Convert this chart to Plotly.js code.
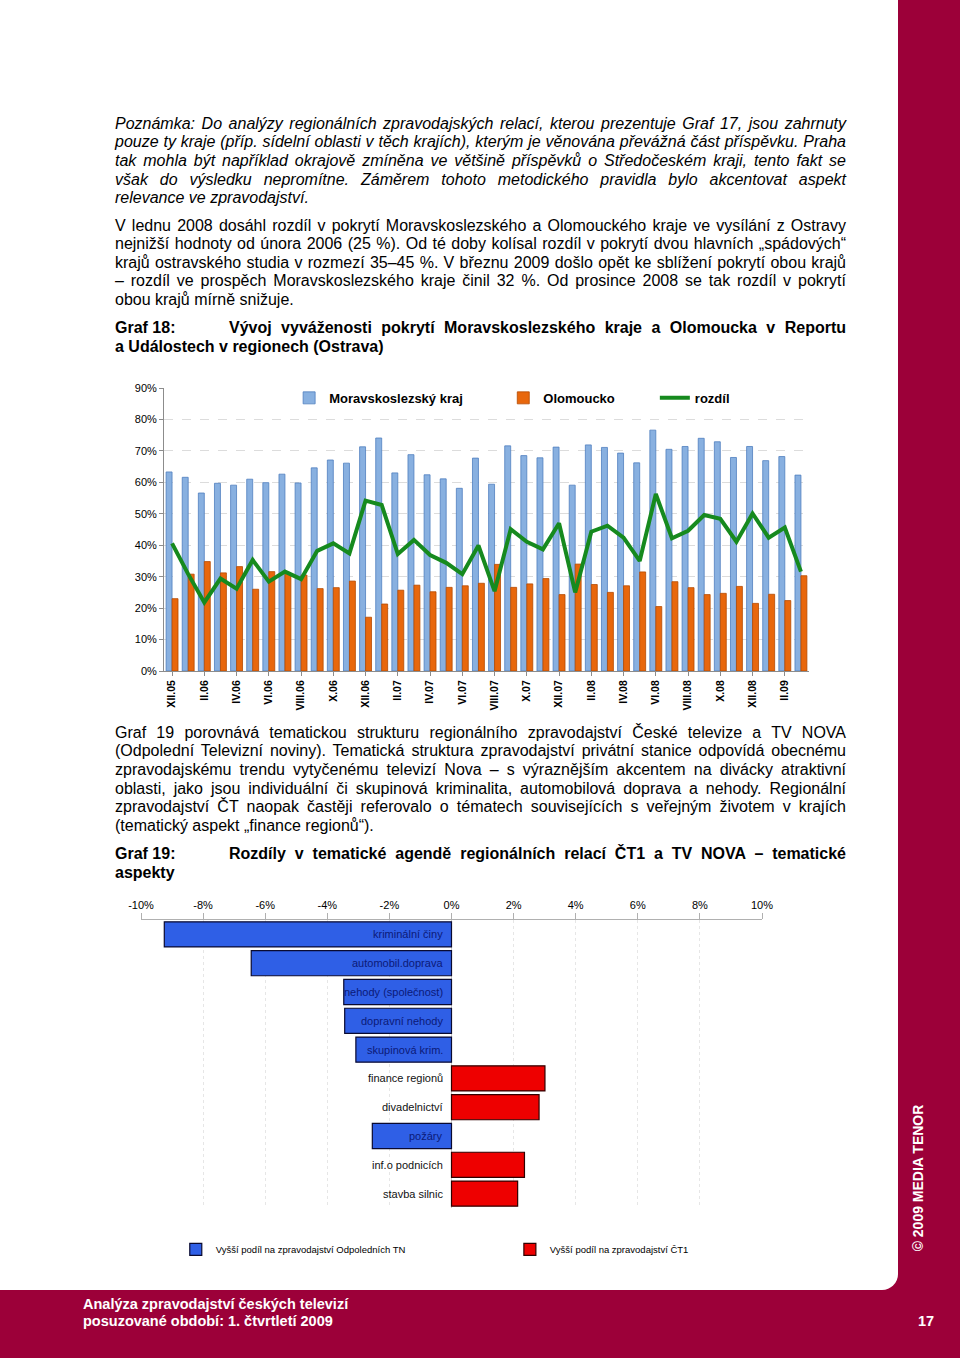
<!DOCTYPE html>
<html><head><meta charset="utf-8">
<script src="https://cdn.plot.ly/plotly-3.0.1.min.js"></script>
<style>
html,body{margin:0;padding:0;}
body{width:960px;height:1358px;background:#9c0039;position:relative;overflow:hidden;font-family:"Liberation Sans",Arial,sans-serif;}
#page{position:absolute;left:0;top:0;width:898px;height:1290px;background:#fff;border-bottom-right-radius:16px;}
.ln{position:absolute;left:115px;width:731px;font-size:16px;line-height:18px;height:18px;white-space:nowrap;color:#000;}
.it{font-style:italic;}
.b{font-weight:bold;}
.hd{position:absolute;left:115px;font-size:16px;line-height:18px;font-weight:bold;white-space:nowrap;}
#c1{position:absolute;left:100px;top:370px;width:730px;height:360px;}
#c2{position:absolute;left:100px;top:880px;width:700px;height:400px;}
#copy{position:absolute;left:918px;top:1178px;transform:translate(-50%,-50%) rotate(-90deg);color:#fff;font-weight:bold;font-size:14px;white-space:nowrap;}
.ft{position:absolute;color:#fff;font-family:"Liberation Sans",Arial,sans-serif;font-weight:bold;font-size:14.5px;line-height:18px;white-space:nowrap;}
</style>
</head><body>
<div id="page"></div>

<div class="ln it j" style="top:115px"><span>Poznámka: Do analýzy regionálních zpravodajských relací, kterou prezentuje Graf 17, jsou zahrnuty</span></div>
<div class="ln it j" style="top:133px"><span>pouze ty kraje (příp. sídelní oblasti v těch krajích), kterým je věnována převážná část příspěvku. Praha</span></div>
<div class="ln it j" style="top:152px"><span>tak mohla být například okrajově zmíněna ve většině příspěvků o Středočeském kraji, tento fakt se</span></div>
<div class="ln it j" style="top:171px"><span>však do výsledku nepromítne. Záměrem tohoto metodického pravidla bylo akcentovat aspekt</span></div>
<div class="ln it" style="top:189px"><span>relevance ve zpravodajství.</span></div>

<div class="ln j" style="top:217px"><span>V lednu 2008 dosáhl rozdíl v pokrytí Moravskoslezského a Olomouckého kraje ve vysílání z Ostravy</span></div>
<div class="ln j" style="top:235px"><span>nejnižší hodnoty od února 2006 (25 %). Od té doby kolísal rozdíl v pokrytí dvou hlavních „spádových“</span></div>
<div class="ln j" style="top:254px"><span>krajů ostravského studia v rozmezí 35–45 %. V březnu 2009 došlo opět ke sblížení pokrytí obou krajů</span></div>
<div class="ln j" style="top:272px"><span>– rozdíl ve prospěch Moravskoslezského kraje činil 32 %. Od prosince 2008 se tak rozdíl v pokrytí</span></div>
<div class="ln" style="top:291px"><span>obou krajů mírně snižuje.</span></div>

<div class="hd" style="top:319px">Graf 18:</div>
<div class="ln b j" style="top:319px;left:229px;width:617px"><span>Vývoj vyváženosti pokrytí Moravskoslezského kraje a Olomoucka v Reportu</span></div>
<div class="ln b" style="top:338px"><span>a Událostech v regionech (Ostrava)</span></div>

<div id="c1"></div>

<div class="ln j" style="top:724px"><span>Graf 19 porovnává tematickou strukturu regionálního zpravodajství České televize a TV NOVA</span></div>
<div class="ln j" style="top:742px"><span>(Odpolední Televizní noviny). Tematická struktura zpravodajství privátní stanice odpovídá obecnému</span></div>
<div class="ln j" style="top:761px"><span>zpravodajskému trendu vytyčenému televizí Nova – s výraznějším akcentem na divácky atraktivní</span></div>
<div class="ln j" style="top:780px"><span>oblasti, jako jsou individuální či skupinová kriminalita, automobilová doprava a nehody. Regionální</span></div>
<div class="ln j" style="top:798px"><span>zpravodajství ČT naopak častěji referovalo o tématech souvisejících s veřejným životem v krajích</span></div>
<div class="ln" style="top:817px"><span>(tematický aspekt „finance regionů“).</span></div>

<div class="hd" style="top:845px">Graf 19:</div>
<div class="ln b j" style="top:845px;left:229px;width:617px"><span>Rozdíly v tematické agendě regionálních relací ČT1 a TV NOVA – tematické</span></div>
<div class="ln b" style="top:864px"><span>aspekty</span></div>

<div id="c2"></div>

<div id="copy">© 2009 MEDIA TENOR</div>
<div class="ft" style="left:83px;top:1295px">Analýza zpravodajství českých televizí</div>
<div class="ft" style="left:83px;top:1312px">posuzované období: 1. čtvrtletí 2009</div>
<div class="ft" style="left:918px;top:1312px">17</div>

<script>
// justify single lines
document.querySelectorAll('.j').forEach(function(el){
  var sp = el.querySelector('span');
  var target = el.getBoundingClientRect().width;
  var w = sp.getBoundingClientRect().width;
  var txt = sp.textContent;
  var n = (txt.match(/ /g)||[]).length;
  if (w < target && n > 0) sp.style.wordSpacing = ((target - w)/n) + 'px';
  else if (w > target) sp.style.letterSpacing = ((target - w)/txt.length) + 'px';
});

// ---- Graf 18 data ----
var months = ['XII.05','I.06','II.06','III.06','IV.06','V.06','VI.06','VII.06','VIII.06','IX.06','X.06','XI.06',
  'XII.06','I.07','II.07','III.07','IV.07','V.07','VI.07','VII.07','VIII.07','IX.07','X.07','XI.07',
  'XII.07','I.08','II.08','III.08','IV.08','V.08','VI.08','VII.08','VIII.08','IX.08','X.08','XI.08',
  'XII.08','I.09','II.09','III.09'];
var moravskoslezsky = [63.3,61.6,56.6,59.7,59.1,61.0,59.9,62.6,59.8,64.6,67.1,66.1,
  71.3,74.1,63.0,68.8,62.4,61.1,58.1,67.7,59.4,71.6,68.5,67.8,
  71.2,59.1,71.9,71.1,69.3,66.2,76.6,70.5,71.4,74.0,72.9,67.9,
  71.4,66.9,68.2,62.3];
var olomoucko = [23.0,30.8,34.8,31.2,33.2,26.0,31.6,31.2,30.5,26.2,26.5,28.6,
  17.1,21.3,25.7,27.3,25.2,26.6,27.1,27.9,33.9,26.6,27.7,29.4,
  24.3,34.0,27.5,25.0,27.1,31.5,20.5,28.4,26.5,24.3,24.7,26.9,
  21.5,24.4,22.4,30.3];
var rozdil = [40.6,30.8,21.8,29.4,26.2,35.3,28.4,31.6,29.2,38.2,40.6,37.4,
  54.2,52.8,37.2,41.7,36.9,34.4,30.8,39.9,25.4,45.1,41.1,38.7,
  47.0,25.0,44.3,46.2,42.4,35.0,56.3,42.2,44.6,49.6,48.4,41.1,
  50.1,42.4,45.6,31.6];
var seriesNames = ['Moravskoslezský kraj','Olomoucko','rozdíl'];

var tickMonths = months.filter(function(m,i){return i%2===0;});

var pct = function(a){return a.map(function(v){return v/100;});};

var t1 = [
  {type:'bar', x:months, y:pct(moravskoslezsky), name:seriesNames[0], legend:'legend',
   marker:{color:'#88b0e0', line:{color:'#4f7fbf', width:0.8}}},
  {type:'bar', x:months, y:pct(olomoucko), name:seriesNames[1], legend:'legend2',
   marker:{color:'#e8670c', line:{color:'#b54a00', width:0.8}}},
  {type:'scatter', mode:'lines', x:months, y:pct(rozdil), name:seriesNames[2], legend:'legend3',
   line:{color:'#168a1e', width:4}}
];
var legFont = {family:'Liberation Sans, Arial', size:13, color:'#000', weight:'bold'};
var l1 = {
  margin:{l:64, r:21, t:18, b:59},
  width:730, height:360,
  paper_bgcolor:'rgba(0,0,0,0)', plot_bgcolor:'rgba(0,0,0,0)',
  barmode:'group', bargap:0.26, bargroupgap:0,
  font:{family:'Liberation Sans, Arial', size:11, color:'#000'},
  xaxis:{type:'category', range:[-0.5, months.length-0.5], tickmode:'array', tickvals:tickMonths, ticktext:tickMonths,
    tickangle:-90, tickfont:{size:10.5, weight:'bold'}, showline:true, linecolor:'#8c8c8c', linewidth:1,
    ticks:'outside', ticklen:4, tickcolor:'#8c8c8c', showgrid:false, zeroline:false},
  yaxis:{range:[0,0.9], dtick:0.1, tickformat:'.0%', showgrid:true, gridcolor:'#dcdcdc', griddash:'dash',
    showline:true, linecolor:'#8c8c8c', ticks:'outside', ticklen:4, tickcolor:'#8c8c8c', zeroline:false},
  showlegend:true,
  legend:{x:0.194, y:0.965, xanchor:'left', yanchor:'middle', orientation:'h', font:legFont, bgcolor:'rgba(0,0,0,0)'},
  legend2:{x:0.526, y:0.965, xanchor:'left', yanchor:'middle', orientation:'h', font:legFont, bgcolor:'rgba(0,0,0,0)'},
  legend3:{x:0.761, y:0.965, xanchor:'left', yanchor:'middle', orientation:'h', font:legFont, bgcolor:'rgba(0,0,0,0)'}
};
Plotly.newPlot('c1', t1, l1, {displayModeBar:false, staticPlot:true});

// ---- Graf 19 data ----
var topics = ['kriminální činy','automobil.doprava','nehody (společnost)','dopravní nehody','skupinová krim.',
  'finance regionů','divadelnictví','požáry','inf.o podnicích','stavba silnic'];
var rozdilTema = [-9.25,-6.45,-3.47,-3.44,-3.08,3.01,2.82,-2.55,2.35,2.13];
var legendNames = ['Vyšší podíl na zpravodajství Odpoledních TN','Vyšší podíl na zpravodajství ČT1'];
var xTicks = [-10,-8,-6,-4,-2,0,2,4,6,8,10];

var negY=[],negX=[],posY=[],posX=[];
topics.forEach(function(t,i){ if(rozdilTema[i]<0){negY.push(t);negX.push(rozdilTema[i]);} else {posY.push(t);posX.push(rozdilTema[i]);} });

var t2 = [
  {type:'bar', orientation:'h', y:negY, x:negX, name:legendNames[0], legend:'legend',
   marker:{color:'#2f5fe6', line:{color:'#0a0a30', width:1.2}}},
  {type:'bar', orientation:'h', y:posY, x:posX, name:legendNames[1], legend:'legend2',
   marker:{color:'#ee0000', line:{color:'#300000', width:1.2}}}
];
var ann = topics.map(function(t,i){
  return {x:0, y:t, xref:'x', yref:'y', text:t, showarrow:false, xanchor:'right', xshift:-7,
    font:{size:11, color: rozdilTema[i]<0 ? '#0c1a78' : '#111'}};
});
var legFont2 = {family:'Liberation Sans, Arial', size:9.5, color:'#000'};
var l2 = {
  margin:{l:41, r:38, t:39.5, b:71.5},
  width:700, height:400,
  paper_bgcolor:'rgba(0,0,0,0)', plot_bgcolor:'rgba(0,0,0,0)',
  barmode:'relative', bargap:0.13,
  font:{family:'Liberation Sans, Arial', size:11, color:'#000'},
  xaxis:{side:'top', range:[-10,10], tickmode:'array', tickvals:xTicks, ticktext:xTicks.map(function(v){return v+'%';}),
    showgrid:true, gridcolor:'#e6e6e6', griddash:'dot',
    showline:true, linecolor:'#b0b0b0', ticks:'outside', ticklen:6, tickcolor:'#b0b0b0', zeroline:true, zerolinecolor:'#c8c8c8', zerolinewidth:1},
  yaxis:{type:'category', categoryorder:'array', categoryarray:topics, autorange:'reversed', showticklabels:false,
    showgrid:false, showline:false, zeroline:false},
  annotations:ann,
  showlegend:true,
  legend:{x:0.056, y:-0.1436, xanchor:'left', yanchor:'middle', orientation:'h', font:legFont2},
  legend2:{x:0.594, y:-0.1436, xanchor:'left', yanchor:'middle', orientation:'h', font:legFont2}
};
Plotly.newPlot('c2', t2, l2, {displayModeBar:false, staticPlot:true});
</script>
</body></html>
